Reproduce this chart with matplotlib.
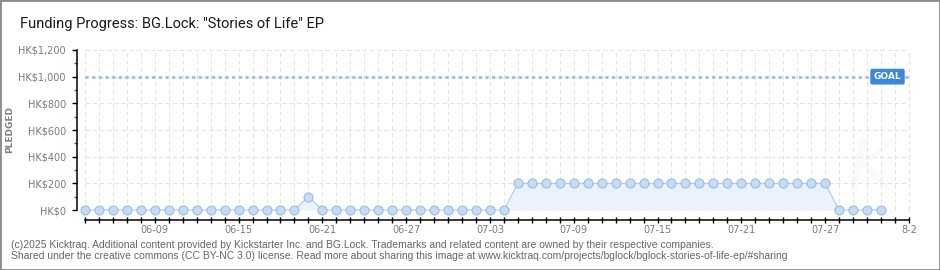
import matplotlib.pyplot as plt
import matplotlib.dates as mdates
import matplotlib.transforms as mtransforms
import pandas as pd
from matplotlib.patches import Rectangle

# daily pledged totals, 06-04 .. 07-31
dates = pd.date_range('2025-06-04', '2025-07-31', freq='D')
pledged = [0, 0, 0, 0, 0, 0, 0, 0, 0, 0, 0, 0, 0, 0, 0, 0,
           100,
           0, 0, 0, 0, 0, 0, 0, 0, 0, 0, 0, 0, 0, 0,
           200, 200, 200, 200, 200, 200, 200, 200, 200, 200, 200, 200,
           200, 200, 200, 200, 200, 200, 200, 200, 200, 200, 200,
           0, 0, 0, 0]
goal = 1000

axis_days = pd.date_range('2025-06-04', '2025-08-02', freq='D')
tick_dates = pd.to_datetime(['2025-06-09', '2025-06-15', '2025-06-21', '2025-06-27',
                             '2025-07-03', '2025-07-09', '2025-07-15', '2025-07-21',
                             '2025-07-27', '2025-08-02'])
tick_labels = ['06-09', '06-15', '06-21', '06-27', '07-03',
               '07-09', '07-15', '07-21', '07-27', '8-2']
ytick_vals = [0, 200, 400, 600, 800, 1000, 1200]
ytick_labels = ['HK$0', 'HK$200', 'HK$400', 'HK$600', 'HK$800', 'HK$1,000', 'HK$1,200']
yminor_vals = [100, 300, 500, 700, 900, 1100]

title = 'Funding Progress: BG.Lock: "Stories of Life" EP'
footer1 = ('(c)2025 Kicktraq. Additional content provided by Kickstarter Inc. and BG.Lock. '
           'Trademarks and related content are owned by their respective companies.')
footer2 = ('Shared under the creative commons (CC BY-NC 3.0) license. Read more about sharing '
           'this image at www.kicktraq.com/projects/bglock/bglock-stories-of-life-ep/#sharing')

W, H = 940, 270
fig = plt.figure(figsize=(W / 100, H / 100), dpi=100)
fig.patch.set_facecolor('white')
ax = fig.add_axes([77 / W, 50 / H, 833 / W, 170 / H])

d_first = mdates.date2num(dates[0])
d_last = mdates.date2num(axis_days[-1])
ax.set_xlim(d_first - 0.57, d_last + 0.08)
ax.set_ylim(-75, 1200)

# grid
ax.hlines(ytick_vals[1:], d_first, d_last, colors='#e2e2e2',
          linestyles=(0, (4, 3)), linewidth=0.75, zorder=1)
ax.vlines(axis_days, 0, 1200, colors='#e2e2e2',
          linestyles=(0, (4, 3)), linewidth=0.75, zorder=1)

# goal line
ax.plot([d_first, d_last], [goal, goal], color='#9dbbe2',
        linewidth=2.0, linestyle=(0, (1.1, 1.3)), zorder=3)
tr = mtransforms.blended_transform_factory(ax.transAxes, ax.transData)
ax.text(0.973, goal, 'GOAL', transform=tr, ha='center', va='center',
        fontsize=6.5, fontweight='bold', color='white', zorder=6,
        bbox=dict(boxstyle='round,pad=0.3,rounding_size=0.15', fc='#3b88d8', ec='#3b88d8'))

# watermark
ax.text(0.953, 0.29, 'K', transform=ax.transAxes, ha='center', va='center',
        fontsize=52, fontstyle='italic', color='#fafafa', zorder=0)

# pledged series
ax.fill_between(dates, pledged, 0, color='#eaf2fc', linewidth=0, zorder=2)
ax.plot(dates, pledged, color='#a8c9ef', linewidth=0.8, marker='o', markersize=6.5,
        markerfacecolor='#c5dcf6', markeredgecolor='#93b5df', markeredgewidth=0.7, zorder=4)

# axes styling
for side in ['top', 'right']:
    ax.spines[side].set_visible(False)
ax.spines['left'].set_bounds(0, 1200)
ax.spines['bottom'].set_bounds(d_first, d_last)
ax.spines['left'].set_linewidth(1.1)
ax.spines['bottom'].set_linewidth(1.1)

ax.set_yticks(ytick_vals, ytick_labels)
ax.set_yticks(yminor_vals, minor=True)
ax.tick_params(axis='y', which='major', direction='out', length=3.5, width=1,
               color='black', labelsize=7, labelcolor='#7a7a7a', pad=4.5)
ax.tick_params(axis='y', which='minor', direction='out', length=2.5, width=1, color='#e02020')

ax.set_xticks(tick_dates, tick_labels)
ax.set_xticks(axis_days, minor=True)
ax.tick_params(axis='x', which='both', direction='inout', length=5, width=1,
               color='black', labelsize=7, labelcolor='#7a7a7a', pad=1)

# texts
fig.text(20 / W, 1 - 24 / H, title, fontsize=10.5, color='#1a1a1a', va='center',
         family=['Roboto', 'DejaVu Sans'])
fig.text(10 / W, 1 - 129 / H, 'PLEDGED', rotation=90, fontsize=6.5, color='#808080',
         ha='center', va='center', fontweight='bold')
fig.text(11 / W, 1 - 245 / H, footer1, fontsize=7.5, color='#666666', va='center',
         family=['Liberation Sans', 'DejaVu Sans'])
fig.text(11 / W, 1 - 256 / H, footer2, fontsize=7.5, color='#666666', va='center',
         family=['Liberation Sans', 'DejaVu Sans'])

fig.patches.append(Rectangle((0, 0), 1, 1, transform=fig.transFigure, fill=False,
                             edgecolor='#8c8c8c', linewidth=2))

fig.savefig('out.png', dpi=100)
plt.close(fig)
